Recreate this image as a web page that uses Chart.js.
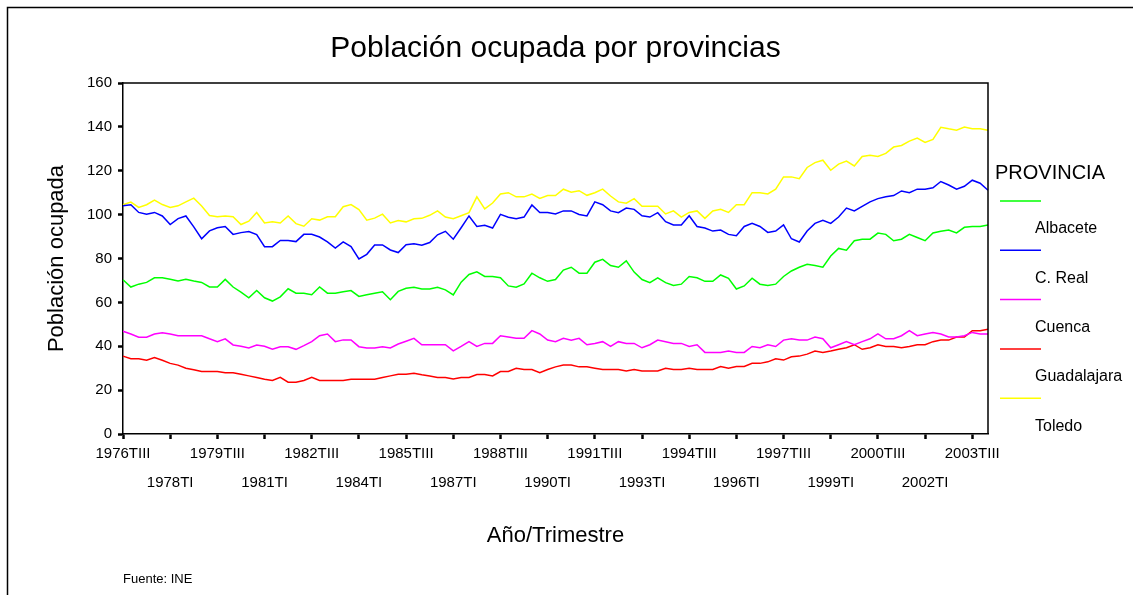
<!DOCTYPE html>
<html lang="es">
<head>
<meta charset="utf-8">
<title>Población ocupada por provincias</title>
<script src="https://cdn.jsdelivr.net/npm/chart.js@4.4.1/dist/chart.umd.min.js"></script>
<style>
    html, body { margin: 0; padding: 0; background: #fff; }
    #wrap { width: 1133px; height: 595px; }
</style>
</head>
<body>
<div id="wrap"><canvas id="chart" width="1133" height="595"></canvas></div>
<script>
// Quarterly series, 1976TIII .. 2004TI (thousands of people)
const firstYear = 1976;
const firstQuarter = 2; // index into romans -> TIII
const quarterCount = 111;
const tickEvery = 6;
const romans = ['I', 'II', 'III', 'IV'];

const provinces = ['Albacete', 'C. Real', 'Cuenca', 'Guadalajara', 'Toledo'];
const lineColors = ['#00ff00', '#0000ff', '#ff00ff', '#ff0000', '#ffff00'];

const albacete = [
    70.3, 67, 68.3, 69.1, 71.2, 71.2, 70.5, 69.7, 70.5, 69.7, 69.1, 67, 67, 70.5, 67, 64.7, 62.1, 65.4, 62.1, 60.6,
    62.5, 66.2, 64.2, 64.2, 63.5, 67, 64.2, 64.2, 64.8, 65.4, 62.7, 63.5, 64.2, 64.8, 61.2, 65, 66.4, 66.9, 66.1, 66.1,
    66.9, 65.7, 63.4, 69.2, 72.7, 73.9, 71.8, 71.8, 71.2, 67.5, 66.9, 68.4, 73.3, 71.2, 69.6, 70.4, 74.7, 76, 73.3, 73.3,
    78.3, 79.6, 76.8, 76, 78.9, 73.8, 70.4, 69, 71.2, 69, 67.7, 68.3, 71.8, 71.2, 69.6, 69.6, 72.5, 71, 66.1, 67.5,
    71, 68.3, 67.7, 68.3, 71.8, 74.3, 76, 77.4, 76.8, 76, 81.1, 84.6, 83.8, 88.1, 88.8, 88.8, 91.6, 91, 88.1, 88.8,
    91, 89.6, 88.1, 91.6, 92.4, 93, 91.7, 94.2, 94.6, 94.6, 95.3
];
const ciudadReal = [
    104, 104.5, 101, 100.2, 101, 99.4, 95.5, 98.2, 99.4, 94.4, 89, 92.6, 94, 94.6, 91, 91.8, 92.3, 90.9, 85.4, 85.4,
    88.2, 88.2, 87.7, 91, 91, 89.8, 87.6, 84.8, 87.6, 85.4, 79.8, 81.9, 86.2, 86.2, 83.9, 82.7, 86.3, 86.7, 86.1, 87.3,
    90.8, 92.4, 88.8, 94, 99.4, 94.6, 95.1, 93.9, 100.1, 98.8, 98.1, 98.9, 104.4, 101, 101, 100.3, 101.7, 101.7, 100.1, 99.4,
    105.8, 104.5, 101.7, 100.9, 103, 102.4, 99.5, 98.9, 100.9, 96.8, 95.3, 95.3, 99.5, 94.6, 93.9, 92.5, 93, 91, 90.4, 94.6,
    96, 94.6, 91.9, 92.5, 95.3, 89, 87.5, 92.5, 96, 97.4, 96, 98.9, 103, 101.7, 103.8, 105.8, 107.3, 108.1, 108.7, 110.8,
    110, 111.6, 111.6, 112.2, 115.1, 113.5, 111.6, 112.9, 115.7, 114.3, 111.1
];
const cuenca = [
    46.8, 45.6, 44.1, 44.1, 45.6, 46.2, 45.6, 44.8, 44.8, 44.8, 44.8, 43.4, 42.1, 43.4, 40.6, 40, 39.2, 40.6, 40, 38.6,
    39.8, 39.8, 38.6, 40.3, 42.1, 44.8, 45.6, 42.1, 42.9, 42.9, 39.8, 39.2, 39.2, 39.8, 39.2, 41, 42.3, 43.6, 40.7, 40.7,
    40.7, 40.7, 37.9, 39.9, 42.1, 39.9, 41.3, 41.3, 44.8, 44.2, 43.6, 43.6, 47.1, 45.6, 42.8, 42.1, 43.6, 42.8, 43.6, 40.7,
    41.3, 42.1, 39.9, 42.1, 41.3, 41.3, 39.3, 40.7, 42.8, 42.1, 41.3, 41.3, 39.9, 40.7, 37.2, 37.2, 37.2, 37.8, 37.2, 37.2,
    39.9, 39.3, 40.7, 39.9, 42.8, 43.4, 42.8, 42.8, 44.2, 43.4, 39.3, 40.7, 42.1, 40.7, 42.1, 43.4, 45.6, 43.4, 43.4, 44.8,
    47.1, 44.8, 45.6, 46.3, 45.6, 44.2, 44.2, 44.8, 46.3, 45.6, 45.6
];
const guadalajara = [
    35.5, 34.3, 34.3, 33.6, 34.9, 33.6, 32.2, 31.4, 30, 29.3, 28.5, 28.5, 28.5, 27.9, 27.9, 27.2, 26.5, 25.8, 25, 24.4,
    25.8, 23.6, 23.6, 24.4, 25.8, 24.4, 24.4, 24.4, 24.4, 25, 25, 25, 25, 25.8, 26.5, 27.2, 27.2, 27.7, 27, 26.4,
    25.8, 25.8, 25.1, 25.8, 25.8, 27.1, 27.1, 26.5, 28.5, 28.5, 30, 29.4, 29.4, 27.9, 29.4, 30.6, 31.4, 31.4, 30.6, 30.6,
    30, 29.4, 29.4, 29.4, 28.7, 29.4, 28.7, 28.7, 28.7, 30, 29.4, 29.4, 30, 29.4, 29.4, 29.4, 30.8, 30, 30.8, 30.8,
    32.2, 32.2, 32.9, 34.3, 33.7, 35.2, 35.5, 36.4, 37.8, 37.2, 37.8, 38.6, 39.3, 40.7, 38.6, 39.3, 40.7, 39.9, 39.9, 39.3,
    39.9, 40.7, 40.7, 42.1, 42.8, 42.8, 44.2, 44.2, 47.1, 47.1, 47.7
];
const toledo = [
    104.5, 105.7, 103.3, 104.5, 106.6, 104.6, 103.3, 104, 105.8, 107.5, 103.9, 99.6, 99, 99.4, 99, 95.5, 97, 101, 96.2, 96.8,
    96.2, 99.4, 95.9, 94.7, 98.1, 97.5, 99, 99, 103.6, 104.6, 102.3, 97.5, 98.4, 100.2, 96.2, 97.3, 96.7, 98.1, 98.3, 99.7,
    101.7, 98.9, 98.1, 99.5, 100.9, 108.1, 102.6, 105.3, 109.4, 110, 108.1, 108.1, 109.4, 107.4, 108.7, 108.7, 111.6, 110.2, 110.9, 108.8,
    110, 111.6, 108.5, 105.8, 105.2, 107.3, 103.8, 103.8, 103.8, 100.3, 101.7, 98.9, 101, 101.7, 98.3, 101.7, 102.4, 101, 104.5, 104.5,
    110, 110, 109.4, 111.6, 117.2, 117.2, 116.4, 121.5, 123.7, 124.8, 120.2, 123, 124.4, 122.2, 126.5, 127.1, 126.5, 127.9, 130.8, 131.5,
    133.5, 134.9, 132.9, 134.3, 139.8, 139.1, 138.5, 139.9, 139.1, 139.1, 138.5
];
const seriesValues = [albacete, ciudadReal, cuenca, guadalajara, toledo];

const yMin = 0;
const yMax = 160;
const yStep = 20;

const FONT = 'Arial, "Liberation Sans", sans-serif';

// quarter labels like 1976TIII, 1976TIV, 1977TI ...
const quarters = [];
for (let i = 0; i < quarterCount; i++) {
    const q = firstQuarter + i;
    quarters.push(`${firstYear + Math.floor(q / 4)}T${romans[q % 4]}`);
}

// frame, plot box, legend and source note
const decorations = {
    id: 'decorations',
    afterDraw(chart) {
        const { ctx, chartArea: a } = chart;
        ctx.save();
        ctx.strokeStyle = '#000';
        ctx.lineWidth = 1.5;

        ctx.beginPath();
        ctx.moveTo(7.5, 620);
        ctx.lineTo(7.5, 7.5);
        ctx.lineTo(1150, 7.5);
        ctx.stroke();

        ctx.beginPath();
        ctx.moveTo(a.left, a.top);
        ctx.lineTo(a.right, a.top);
        ctx.lineTo(a.right, a.bottom);
        ctx.stroke();

        ctx.fillStyle = '#000';
        ctx.textBaseline = 'middle';
        ctx.textAlign = 'left';
        ctx.font = `20px ${FONT}`;
        ctx.fillText('PROVINCIA', 995, 173);

        ctx.font = `16px ${FONT}`;
        chart.data.datasets.forEach((ds, k) => {
            const y = 201 + k * 49.3;
            ctx.strokeStyle = ds.borderColor;
            ctx.lineWidth = 1.5;
            ctx.beginPath();
            ctx.moveTo(1000, y);
            ctx.lineTo(1041, y);
            ctx.stroke();
            ctx.fillText(ds.label, 1035, y + 28);
        });

        ctx.font = `13px ${FONT}`;
        ctx.fillText('Fuente: INE', 123, 579);
        ctx.restore();
    }
};

const ctx = document.getElementById('chart').getContext('2d');
new Chart(ctx, {
    type: 'line',
    data: {
        labels: quarters,
        datasets: provinces.map((name, k) => ({
            label: name,
            data: seriesValues[k],
            borderColor: lineColors[k],
            borderWidth: 1.5,
            pointRadius: 0,
            tension: 0,
            fill: false
        }))
    },
    options: {
        responsive: false,
        animation: false,
        layout: { padding: { left: 0, top: 0, right: 145, bottom: 0 } },
        plugins: {
            legend: { display: false },
            tooltip: { enabled: false },
            title: {
                display: true,
                fullSize: false,
                text: 'Población ocupada por provincias',
                color: '#000',
                font: { family: FONT, size: 30, weight: 'normal', lineHeight: 1.2 },
                padding: { top: 31, bottom: 16 }
            }
        },
        scales: {
            x: {
                type: 'category',
                offset: false,
                afterFit: (scale) => { scale.height = 161; },
                border: { display: true, color: '#000', width: 1.5 },
                grid: {
                    drawOnChartArea: false,
                    drawTicks: true,
                    tickLength: 5,
                    tickWidth: 2.5,
                    tickColor: (c) => (c.index % tickEvery === 0 ? '#000' : 'rgba(0,0,0,0)')
                },
                ticks: {
                    autoSkip: false,
                    maxRotation: 0,
                    minRotation: 0,
                    padding: 0,
                    color: '#000',
                    font: { family: FONT, size: 15, lineHeight: 1.93 },
                    callback: (value, index) => {
                        if (index % tickEvery !== 0) return '';
                        const label = quarters[index];
                        return (index / tickEvery) % 2 === 0 ? label : ['', label];
                    }
                },
                title: {
                    display: true,
                    text: 'Año/Trimestre',
                    color: '#000',
                    font: { family: FONT, size: 22, lineHeight: 1.2 },
                    padding: { top: 0, bottom: 45.8 }
                }
            },
            y: {
                min: yMin,
                max: yMax,
                afterFit: (scale) => { scale.width = 123; },
                border: { display: true, color: '#000', width: 1.5 },
                grid: {
                    drawOnChartArea: false,
                    drawTicks: true,
                    tickLength: 5,
                    tickWidth: 2.5,
                    tickColor: '#000'
                },
                ticks: {
                    stepSize: yStep,
                    padding: 6,
                    color: '#000',
                    font: { family: FONT, size: 15 }
                },
                title: {
                    display: true,
                    text: 'Población ocupada',
                    color: '#000',
                    font: { family: FONT, size: 22, lineHeight: 1.2 },
                    padding: { top: 43.8, bottom: 0 }
                }
            }
        }
    },
    plugins: [decorations]
});
</script>
</body>
</html>
